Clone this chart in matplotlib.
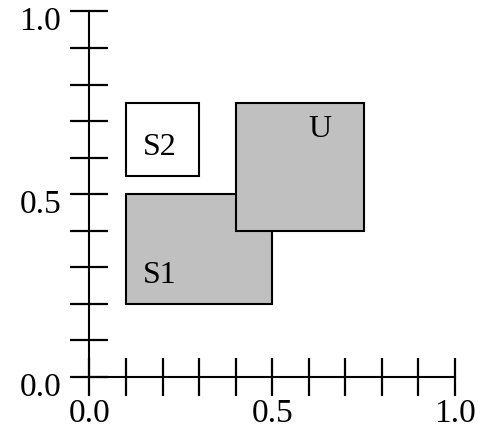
import matplotlib.pyplot as plt
from matplotlib.patches import Rectangle
from matplotlib.transforms import ScaledTranslation

plt.rcParams['font.family'] = ['Liberation Serif', 'DejaVu Serif']

# rectangles: name, (x0, y0), width, height, face colour
names = ["S1", "U", "S2"]
corners = [(0.1, 0.2), (0.4, 0.4), (0.1, 0.55)]
widths = [0.4, 0.35, 0.2]
heights = [0.3, 0.35, 0.2]
faces = ["#c0c0c0", "#c0c0c0", "white"]
label_pos = [(0.193, 0.277), (0.63, 0.676), (0.193, 0.627)]

ticks = [i / 10 for i in range(11)]
tick_labels = ["0.0" if t == 0 else "0.5" if t == 0.5 else "1.0" if t == 1 else "" for t in ticks]

fig = plt.figure(figsize=(4.85, 4.38), dpi=100)
ax = fig.add_axes([0.1845, 0.1393, 0.7536, 0.8345])

for name, xy, w, h, fc, lp in zip(names, corners, widths, heights, faces, label_pos):
    ax.add_patch(Rectangle(xy, w, h, facecolor=fc, edgecolor="black", linewidth=1.5))
    ax.text(lp[0], lp[1], name, fontsize=23, ha="center", va="center")

ax.set_xlim(0, 1)
ax.set_ylim(0, 1)
ax.set_xticks(ticks)
ax.set_yticks(ticks)
ax.set_xticklabels(tick_labels)
ax.set_yticklabels(tick_labels)
ax.tick_params(direction="inout", length=27, width=1.6, labelsize=24)
ax.tick_params(axis="x", pad=2)
ax.tick_params(axis="y", pad=7)
ax.spines["top"].set_visible(False)
ax.spines["right"].set_visible(False)
for s in ["left", "bottom"]:
    ax.spines[s].set_linewidth(1.5)
for t in ax.xaxis.get_major_ticks() + ax.yaxis.get_major_ticks():
    t.tick1line.set_clip_on(False)

# y labels sit a little below their ticks in the original
shift = ScaledTranslation(0, -5 / 72, fig.dpi_scale_trans)
for lab in ax.get_yticklabels():
    lab.set_transform(lab.get_transform() + shift)

fig.savefig("out.png", dpi=100)
